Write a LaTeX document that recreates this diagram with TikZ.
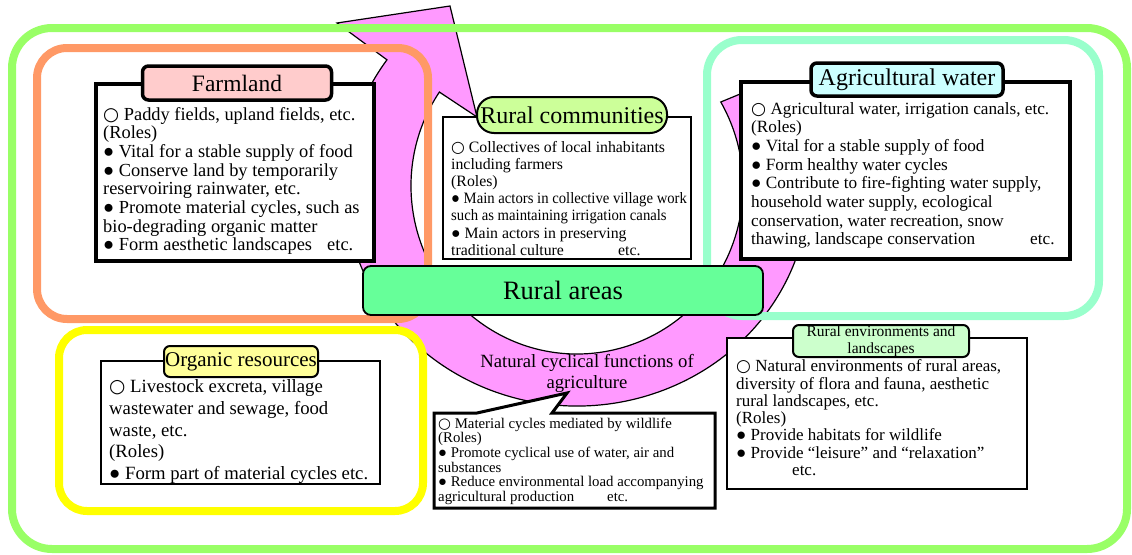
\documentclass[tikz,border=0pt]{standalone}
\usepackage{fontspec}
\setmainfont{Liberation Serif}
\newfontfamily\symf{DejaVu Sans}
\usepackage{graphicx}
\newcommand{\fsz}[2]{\fontsize{#1pt}{#2pt}\selectfont\lineskiplimit=-50pt\relax}
\newcommand{\wc}{{\symf ○}}
\newcommand{\narrow}[1]{\scalebox{0.93}[1]{#1}}
\definecolor{ringpink}{HTML}{FF99FF}
\definecolor{pgreen}{HTML}{99FF66}
\definecolor{porange}{HTML}{FF9966}
\definecolor{pyellow}{HTML}{FFFF00}
\definecolor{pcyan}{HTML}{99FFCC}
\definecolor{tfarm}{HTML}{FFCCCC}
\definecolor{tcomm}{HTML}{CCFF99}
\definecolor{twater}{HTML}{CCFFFF}
\definecolor{torg}{HTML}{FFFF99}
\definecolor{tarea}{HTML}{66FF99}
\definecolor{tenv}{HTML}{CCFFCC}
\begin{document}
\begin{tikzpicture}[x=1pt,y=-1pt,
  panel/.style={line width=8pt, rounded corners=#1},
  infobox/.style={draw=black, fill=white, inner sep=0pt},
  tagbox/.style={draw=black, inner sep=0pt, rounded corners=6pt, line width=2pt},
  txt/.style={anchor=base west, inner sep=0pt, align=left}]
\useasboundingbox (0,0) rectangle (1132,554);
% pink circular arrow
\filldraw[fill=ringpink, draw=black, line width=1.2pt, line join=miter]
  ({577+232*cos(-22)},{186+220*sin(-22)})
  arc[start angle=-22, end angle=215, x radius=232, y radius=220]
  -- (337,23) -- (450,6) -- (477,117)
  -- ({577+166*cos(214)},{186+168*sin(214)})
  arc[start angle=214, end angle=-30, x radius=166, y radius=168]
  -- (745,92) -- cycle;
% coloured frames
\draw[panel=40pt, draw=pgreen] (12,28) rectangle (1127,549);
\draw[panel=30pt, draw=porange] (37,48) rectangle (428,319);
\draw[panel=28pt, draw=pyellow] (59,330) rectangle (423,511);
\draw[panel=35pt, draw=pcyan] (707,40) rectangle (1099,316);
% Farmland
\node[infobox, line width=4pt, minimum width=278pt, minimum height=177pt] (farmbox) at (235,172.5) {};
\node[tagbox, fill=tfarm, line width=3.5pt, minimum width=189pt, minimum height=34pt, font=\fsz{23.5}{23.5}] (farmtitle) at (237,83) {Farmland};
\node[txt, font=\fsz{18.4}{18.7}] (farmtext) at (103,250.9) {\wc\ Paddy fields, upland fields, etc.\\(Roles)\\● Vital for a stable supply of food\\● Conserve land by temporarily\\reservoiring rainwater, etc.\\● Promote material cycles, such as\\bio-degrading organic matter\\\makebox[224pt][l]{● Form aesthetic landscapes}etc.};
% Rural communities
\node[infobox, line width=1.5pt, minimum width=248pt, minimum height=142pt] (commbox) at (567,188) {};
\node[tagbox, fill=tcomm, rounded corners=17pt, minimum width=190pt, minimum height=36pt, font=\fsz{24}{24}] (commtitle) at (572,115) {Rural communities};
\node[txt, font=\fsz{15.8}{17.2}] (commtext) at (451,255.2) {\wc\ Collectives of local inhabitants\\including farmers\\(Roles)\\\narrow{● Main actors in collective village work}\\\narrow{such as maintaining irrigation canals}\\● Main actors in preserving\\\makebox[167pt][l]{traditional culture}etc.};
% Agricultural water
\node[infobox, line width=4.5pt, minimum width=329pt, minimum height=177pt] (waterbox) at (905.5,170.5) {};
\node[tagbox, fill=twater, line width=3.5pt, minimum width=192pt, minimum height=33pt, font=\fsz{24}{24}] (watertitle) at (907,79.5) {Agricultural water};
\node[txt, font=\fsz{17.2}{18.7}] (watertext) at (751,244.9) {\wc\ Agricultural water, irrigation canals, etc.\\(Roles)\\● Vital for a stable supply of food\\● Form healthy water cycles\\● Contribute to fire-fighting water supply,\\household water supply, ecological\\conservation, water recreation, snow\\\makebox[279pt][l]{thawing, landscape conservation}etc.};
% Organic resources
\node[infobox, line width=1.2pt, minimum width=279pt, minimum height=123pt] (orgbox) at (240.5,422.5) {};
\node[tagbox, fill=torg, minimum width=154pt, minimum height=31pt, font=\fsz{21}{21}] (orgtitle) at (241,361.5) {Organic resources};
\node[txt, font=\fsz{18.7}{21.7}] (orgtext) at (109,479.5) {\wc\ Livestock excreta, village\\wastewater and sewage, food\\waste, etc.\\(Roles)\\● Form part of material cycles etc.};
% Rural areas
\node[draw=black, fill=tarea, line width=1.8pt, rounded corners=8pt, minimum width=400pt, minimum height=49pt, inner sep=0pt, font=\fsz{26.5}{26.5}] (areas) at (563,290.5) {Rural areas};
% Natural cyclical functions label
\node[anchor=base, inner sep=0pt, align=center, font=\fsz{18.7}{21.7}] (cyclabel) at (587,388.7) {Natural cyclical functions of\\agriculture};
% callout box for material cycles
\filldraw[fill=white, draw=black, line width=3pt, line join=miter]
  (434,413) -- (477,413) -- (567,393) -- (552,413) -- (715,413) -- (715,508) -- (434,508) -- cycle;
\node[txt, font=\fsz{14.8}{14.7}] (cyctext) at (438,501.5) {\wc\ Material cycles mediated by wildlife\\(Roles)\\● Promote cyclical use of water, air and\\substances\\● Reduce environmental load accompanying\\\makebox[169pt][l]{agricultural production}etc.};
% Rural environments and landscapes
\node[infobox, line width=1.5pt, minimum width=300pt, minimum height=151pt] (envbox) at (877,413.5) {};
\node[tagbox, fill=tenv, minimum width=176pt, minimum height=32pt, align=center, font=\fsz{15.5}{16.7}] (envtitle) at (881,341) {Rural environments and\\landscapes};
\node[txt, font=\fsz{17}{17.3}] (envtext) at (736,475.5) {\wc\ Natural environments of rural areas,\\diversity of flora and fauna, aesthetic\\rural landscapes, etc.\\(Roles)\\● Provide habitats for wildlife\\● Provide “leisure” and “relaxation”\\\hspace*{56pt}etc.};
\end{tikzpicture}
\end{document}
